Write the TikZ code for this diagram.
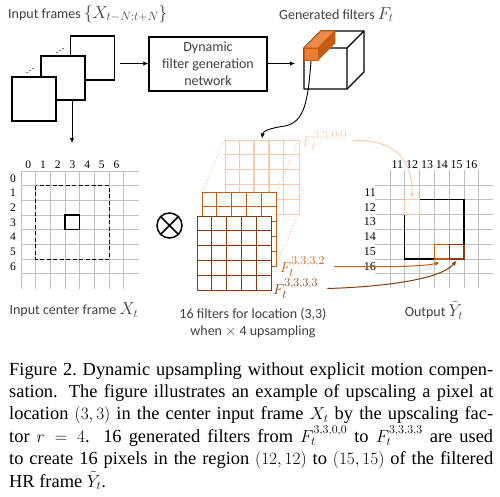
\documentclass[tikz,border=0pt]{standalone}
\usepackage{fontspec}
\setmainfont{Liberation Serif}
\newfontfamily\calfont{Carlito}
\usetikzlibrary{arrows.meta}
\DeclareMathSizes{15.5}{15.5}{11.5}{9}
\DeclareMathSizes{16}{16}{11.5}{9}
\DeclareMathSizes{18.4}{18.4}{13}{10}
\definecolor{lightor}{HTML}{F8CBAD}
\definecolor{midor}{HTML}{C55A11}
\definecolor{darkbr}{HTML}{843C0C}
\definecolor{orng}{HTML}{ED7D31}
\definecolor{orngtop}{HTML}{F08A4B}
\definecolor{gridg}{HTML}{BFBFBF}
\definecolor{txt}{HTML}{404040}
\newcommand\mathlab[1]{{\fontsize{16}{16}\selectfont$#1$}}
\newcommand\fivegrid[4]{%
  \node[draw=#3, fill=white, line width=1.3pt, minimum size=74pt, inner sep=0, anchor=north west] (#4) at (#1,#2) {};
  \foreach \k in {1,...,4} {
    \draw[#3, line width=1.3pt] ({#1+\k*14.8},#2) -- ++(0,74);
    \draw[#3, line width=1.3pt] (#1,{#2+\k*14.8}) -- ++(74,0);
  }%
}
\begin{document}
\begin{tikzpicture}[x=1pt,y=-1pt,
  lab/.style={font=\calfont\fontsize{14}{17}\selectfont, text=txt, inner sep=0},
  num/.style={font=\fontsize{11.5}{11.5}\selectfont, inner sep=0},
  arr/.style={-{Latex[length=5pt,width=4.5pt]}, line width=0.9pt},
  framebox/.style={draw, fill=white, line width=1.2pt, minimum size=44pt, inner sep=0},
  flab/.style={font=\fontsize{15.5}{15.5}\selectfont, inner sep=0, anchor=base west},
]
\useasboundingbox (0,0) rectangle (500,496);

% ---------- input frames ----------
\node[lab, anchor=base west] (tin) at (8,18) {Input frames \mathlab{\{X_{t-N:t+N}\}}};
\node[framebox] (f3) at (92.5,58) {};
\node[framebox] (f2) at (63,78) {};
\node[framebox] (f1) at (34,99) {};
\fill (57,52.5) circle (0.7pt) (60,50.5) circle (0.7pt) (63,48.5) circle (0.7pt);
\fill (27,72.5) circle (0.7pt) (30,70.5) circle (0.7pt) (33,68.5) circle (0.7pt);

% ---------- dynamic filter box ----------
\node[lab, draw=black, line width=1.5pt, minimum width=118pt, minimum height=54pt, align=center] (dyn) at (208,64) {Dynamic\\filter generation\\network};
\coordinate (a1) at (120,63.5);
\draw[arr] (a1) -- (dyn.west |- a1);
\coordinate (cubein) at (295,63.5);
\draw[arr] (dyn.east |- cubein) -- (cubein);
\coordinate (dn) at (72,143);
\draw[arr] (f2.south -| dn) -- (dn);

% ---------- cube ----------
\node[lab, anchor=base west] (tgen) at (279,19) {Generated filters \mathlab{F_t}};
\filldraw[fill=white, line width=1.2pt, line join=round] (304,48) -- (321,31) -- (364,31) -- (364,72) -- (347,89) -- (304,89) -- cycle;
\draw[line width=1.2pt, line join=round] (304,48) -- (347,48) -- (364,31) (347,48) -- (347,89);
\filldraw[fill=orngtop, draw=midor, line width=0.8pt] (304,48) -- (321,31) -- (335,31) -- (318,48) -- cycle;
\filldraw[fill=midor, draw=midor, line width=0.8pt] (318,48) -- (335,31) -- (335,43) -- (318,60) -- cycle;
\filldraw[fill=orng, draw=midor, line width=0.8pt] (304,48) rectangle (318,60);
\coordinate (rod) at (311,61);

% ---------- filter grids ----------
\fivegrid{224.5}{140}{lightor}{g0}
\draw[lightor, dotted, line width=1.1pt] (224.5,140) -- (202,192);
\draw[lightor, dotted, line width=1.1pt] (298.5,140) -- (276,192);
\draw[lightor, dotted, line width=1.1pt] (298.5,214) -- (276,266);
\fivegrid{202}{192}{midor}{g1}
\fivegrid{197}{216}{darkbr}{g2}
\coordinate (g0top) at (262,138.5);
\draw[arr] (rod) .. controls (308,100) and (305,122) .. (285,126) .. controls (270,128) and (263,131) .. (g0top);

\node[flab, text=lightor] (l0) at (302,146) {$F_t^{3,3,0,0}$};
\node[flab, text=midor] (l1) at (280,272) {$F_t^{3,3,3,2}$};
\node[flab, text=darkbr] (l2) at (273,294) {$F_t^{3,3,3,3}$};
\node[lab, align=center] (lfil) at (253,323) {16 filters for location (3,3)\\when $\times$ 4 upsampling};

% ---------- otimes ----------
\node[circle, draw, line width=1.5pt, minimum size=25pt, inner sep=0] (ot) at (169.5,225.5) {};
\draw[line width=1.5pt] (ot.north west) -- (ot.south east) (ot.north east) -- (ot.south west);

% ---------- input grid ----------
\foreach \k in {0,...,7} {
  \draw[gridg, line width=1pt] ({21+\k*14.7},171) -- ({21+\k*14.7},288.6);
  \draw[gridg, line width=1pt] (21,{171+\k*14.7}) -- (138.6,{171+\k*14.7});
}
\foreach \k in {0,...,6} {
  \node[num] (ci\k) at ({21+(\k+0.5)*14.7},165) {\k};
  \node[num] (ri\k) at (13,{171+(\k+0.5)*14.7}) {\k};
}
\draw[line width=1.3pt, dash pattern=on 4pt off 2.5pt] (35.7,185.7) rectangle (109.2,259.2);
\node[draw, line width=1.3pt, minimum size=14.7pt, inner sep=0] (px) at (72.45,222.45) {};
\node[lab] (lin) at (74,310) {Input center frame \mathlab{X_t}};

% ---------- output grid ----------
\foreach \k in {0,...,6} {
  \draw[gridg, line width=1pt] ({390+\k*14.8},170) -- ({390+\k*14.8},288);
  \draw[gridg, line width=1pt] (375,{185+\k*14.8}) -- (493,{185+\k*14.8});
}
\foreach \k [evaluate=\k as \lbl using int(\k+11)] in {0,...,5} {
  \node[num, font=\fontsize{12}{12}\selectfont] (co\k) at ({390+(\k+0.5)*14.8},165) {\lbl};
  \node[num, font=\fontsize{12}{12}\selectfont, anchor=east] (ro\k) at (376,{185+(\k+0.5)*14.8}) {\lbl};
}
\draw[line width=1.3pt] (404.8,199.8) rectangle (464,259);
\node[draw=lightor, fill=white, line width=1.3pt, minimum size=14.8pt, inner sep=0] (o0) at (412.2,207.2) {};
\node[draw=midor, line width=1.3pt, minimum size=14.8pt, inner sep=0] (o2) at (441.8,251.6) {};
\node[draw=darkbr, line width=1.3pt, minimum size=14.8pt, inner sep=0] (o3) at (456.6,251.6) {};
\node[lab] (lout) at (434,310) {Output \mathlab{\tilde{Y}_t}};

% ---------- connectors to output ----------
\draw[arr, lightor, line width=1pt] ([xshift=6pt]l0.east) .. controls (385,140) and (412,150) .. ([yshift=1pt]o0.north);
\draw[arr, midor, line width=1pt] ([xshift=9pt]l1.east) .. controls (380,267) and (420,267) .. ([xshift=-2pt,yshift=-3pt]o2.south);
\draw[arr, darkbr, line width=1pt] ([xshift=9pt]l2.east) .. controls (380,287) and (440,280) .. ([yshift=-1pt]o3.south);

% ---------- caption ----------
\node[anchor=base west, text width=484pt, align=justify, inner sep=0, font=\fontsize{18.4}{22.4}\selectfont] (cap) at (9,375) {Figure 2.\ Dynamic upsampling without explicit motion compen-\linebreak sation.  The figure illustrates an example of upscaling a pixel at\linebreak location $(3,3)$ in the center input frame $X_t$ by the upscaling fac-\linebreak tor $r=4$. 16 generated filters from $F_t^{3,3,0,0}$ to $F_t^{3,3,3,3}$ are used\linebreak to create 16 pixels in the region $(12,12)$ to $(15,15)$ of the filtered\linebreak HR frame $\tilde{Y}_t$.};
\end{tikzpicture}
\end{document}
